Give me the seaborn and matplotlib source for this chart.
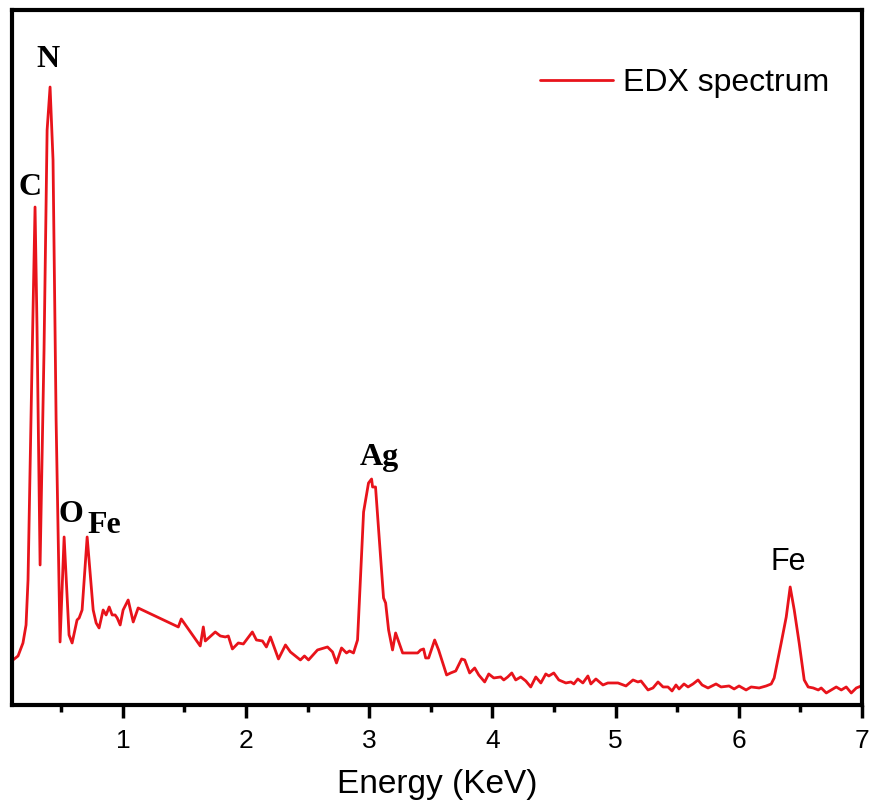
import numpy as np
import pandas as pd
import seaborn as sns
import matplotlib.pyplot as plt
from matplotlib import font_manager
from matplotlib.ticker import MultipleLocator

# EDX spectrum (energy in keV, counts in arbitrary units)
energy = [0.108, 0.149, 0.189, 0.214, 0.230, 0.263, 0.287, 0.303, 0.328, 0.360,
          0.385, 0.409, 0.433, 0.458, 0.490, 0.523, 0.563, 0.588, 0.628, 0.645,
          0.669, 0.710, 0.759, 0.783, 0.807, 0.840, 0.864, 0.889, 0.913, 0.937,
          0.954, 0.978, 1.002, 1.043, 1.084, 1.124, 1.450, 1.474, 1.628, 1.653,
          1.669, 1.750, 1.791, 1.832, 1.856, 1.889, 1.937, 1.978, 2.051, 2.084,
          2.133, 2.165, 2.198, 2.263, 2.320, 2.360, 2.441, 2.474, 2.507, 2.580,
          2.661, 2.702, 2.734, 2.775, 2.815, 2.840, 2.872, 2.905, 2.954, 2.994,
          3.019, 3.027, 3.051, 3.116, 3.133, 3.157, 3.189, 3.214, 3.271, 3.393,
          3.417, 3.441, 3.458, 3.482, 3.531, 3.563, 3.628, 3.661, 3.702, 3.750,
          3.775, 3.815, 3.856, 3.889, 3.937, 3.970, 4.011, 4.067, 4.092, 4.124,
          4.157, 4.189, 4.230, 4.271, 4.311, 4.352, 4.393, 4.433, 4.458, 4.498,
          4.539, 4.596, 4.637, 4.661, 4.693, 4.734, 4.775, 4.799, 4.840, 4.897,
          4.937, 5.019, 5.084, 5.141, 5.181, 5.206, 5.263, 5.303, 5.344, 5.385,
          5.425, 5.458, 5.490, 5.515, 5.555, 5.588, 5.628, 5.669, 5.702, 5.750,
          5.815, 5.856, 5.921, 5.962, 6.002, 6.059, 6.100, 6.165, 6.222, 6.263,
          6.287, 6.344, 6.385, 6.417, 6.450, 6.490, 6.531, 6.563, 6.604, 6.645,
          6.669, 6.710, 6.751, 6.791, 6.832, 6.872, 6.913, 6.954, 6.994]
counts = [45, 49, 62, 80, 125, 345, 498, 378, 140, 355,
          575, 618, 545, 285, 63, 168, 70, 62, 85, 87,
          95, 168, 95, 82, 77, 95, 90, 98, 90, 90,
          87, 80, 95, 105, 83, 97, 78, 86, 59, 78,
          64, 73, 69, 68, 69, 56, 62, 61, 73, 65,
          64, 58, 68, 46, 60, 53, 45, 49, 45, 55,
          58, 53, 42, 57, 52, 54, 52, 65, 193, 222,
          226, 218, 218, 107, 102, 75, 55, 72, 52, 52,
          55, 56, 47, 47, 65, 55, 30, 32, 34, 46,
          45, 32, 37, 30, 23, 31, 27, 28, 25, 28,
          32, 25, 28, 24, 18, 28, 22, 31, 29, 32,
          25, 22, 23, 21, 26, 22, 29, 21, 26, 20,
          22, 22, 19, 25, 23, 24, 15, 17, 23, 18,
          18, 14, 20, 16, 21, 18, 21, 25, 20, 17,
          21, 18, 19, 16, 19, 15, 18, 17, 19, 21,
          27, 62, 88, 118, 95, 62, 25, 18, 17, 15,
          17, 12, 15, 18, 15, 18, 12, 17, 19]

# peak labels
peak_names = ["N", "C", "O", "Fe", "Ag"]
peak_x = [0.393, 0.246, 0.580, 0.848, 3.084]
peak_y = [638, 510, 183, 172, 240]
fe_k_x, fe_k_y = 6.40, 135

sns.set_style("ticks")
names = {f.name for f in font_manager.fontManager.ttflist}
narrow = "Liberation Sans Narrow" if "Liberation Sans Narrow" in names else "Liberation Sans"
plt.rcParams["font.family"] = ["Liberation Sans", "DejaVu Sans"]
plt.rcParams["text.color"] = "black"
plt.rcParams["xtick.color"] = "black"
plt.rcParams["axes.labelcolor"] = "black"

df = pd.DataFrame({"Energy": energy, "Counts": counts})

fig = plt.figure(figsize=(8.7, 8.09), dpi=100)
ax = fig.add_axes([0.0138, 0.1286, 0.977, 0.859])

sns.lineplot(data=df, x="Energy", y="Counts", ax=ax, color="#e8131b",
             linewidth=2.0, sort=False, estimator=None, label="EDX spectrum")

ax.set_xlim(0.1, 7.0)
ax.set_ylim(0, 695)
ax.set_yticks([])
ax.set_ylabel("")
ax.xaxis.set_major_locator(MultipleLocator(1))
ax.xaxis.set_minor_locator(MultipleLocator(0.5))
ax.set_xticks([1, 2, 3, 4, 5, 6, 7])
ax.tick_params(axis="x", which="major", direction="out", length=9, width=2.5,
               pad=8, labelsize=19, color="black", labelcolor="black")
ax.tick_params(axis="x", which="minor", direction="out", length=5, width=2.5,
               color="black")
for lab in ax.get_xticklabels():
    lab.set_family(narrow)

for s in ax.spines.values():
    s.set_visible(True)
    s.set_linewidth(3)
    s.set_color("black")

ax.set_xlabel("Energy (KeV)", fontsize=24, family=narrow, labelpad=12, color="black")

for name, x, y in zip(peak_names, peak_x, peak_y):
    ax.text(x, y, name, ha="center", va="baseline", fontsize=23,
            fontweight="bold", family="Liberation Serif", color="black")
ax.text(fe_k_x, fe_k_y, "Fe", ha="center", va="baseline", fontsize=22, color="black")

ax.legend(loc="center left", bbox_to_anchor=(0.621, 0.895), frameon=False,
          fontsize=23, handlelength=2.3, handletextpad=0.3,
          borderpad=0, borderaxespad=0, labelcolor="black")

plt.savefig("out.png", dpi=100)
